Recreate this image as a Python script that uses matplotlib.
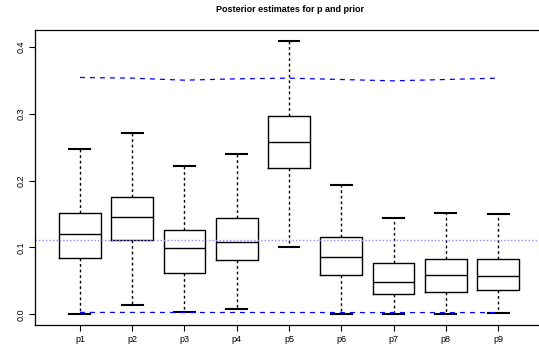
import matplotlib
matplotlib.use("Agg")
import matplotlib.pyplot as plt
import numpy as np

plt.rcParams['font.family'] = ['Liberation Sans', 'DejaVu Sans']

# box statistics
labels = ["p1", "p2", "p3", "p4", "p5", "p6", "p7", "p8", "p9"]
whislo = [0.0005, 0.014, 0.003, 0.008, 0.101, 0.001, 0.001, 0.001, 0.0015]
q1 = [0.0845, 0.111, 0.062, 0.0815, 0.218, 0.058, 0.030, 0.034, 0.036]
med = [0.120, 0.145, 0.0985, 0.108, 0.257, 0.086, 0.048, 0.058, 0.057]
q3 = [0.151, 0.176, 0.126, 0.144, 0.296, 0.116, 0.077, 0.082, 0.082]
whishi = [0.247, 0.271, 0.221, 0.240, 0.409, 0.193, 0.144, 0.152, 0.150]

# prior quantiles and prior mean
prior_hi = [0.354, 0.353, 0.350, 0.352, 0.353, 0.351, 0.349, 0.351, 0.353]
prior_lo = [0.0028, 0.0028, 0.0027, 0.0027, 0.0027, 0.0026, 0.0026, 0.0026, 0.0026]
prior_mean = 0.111

fig = plt.figure(figsize=(5.39, 3.45), dpi=100)
ax = fig.add_axes([35/539, 1-325/345, 508/539, 295/345])

stats = []
for i in range(len(labels)):
    stats.append(dict(label=labels[i], whislo=whislo[i], q1=q1[i], med=med[i],
                      q3=q3[i], whishi=whishi[i], fliers=[]))

pos = np.arange(1, len(labels)+1)
ax.bxp(stats, positions=pos, widths=0.8, showfliers=False,
       boxprops=dict(color="black", linewidth=1.0),
       medianprops=dict(color="black", linewidth=1.0),
       whiskerprops=dict(color="black", linewidth=1.0, linestyle=(0, (2, 2))),
       capprops=dict(color="black", linewidth=1.5), capwidths=0.4)

ax.plot(pos, prior_hi, color="blue", linestyle=(0, (4, 4)), linewidth=0.9)
ax.plot(pos, prior_lo, color="blue", linestyle=(0, (4, 4)), linewidth=0.9)
ax.axhline(prior_mean, color="#8c8cff", linestyle=(0, (1, 1.5)), linewidth=1.0)

ax.set_xlim(0.14, 9.86)
ax.set_ylim(-0.016, 0.425)
ax.set_xticks(pos)
ax.set_xticklabels(labels, fontsize=6.5)
ax.set_yticks([0.0, 0.1, 0.2, 0.3, 0.4])
ax.set_yticklabels(["0.0", "0.1", "0.2", "0.3", "0.4"], fontsize=6.5, rotation=90, va="center")
ax.tick_params(direction="out", length=4, width=0.8, pad=3)
for s in ax.spines.values():
    s.set_linewidth(0.9)

fig.text(290/539, 1-10/345, "Posterior estimates for p and prior", ha="center", va="center",
         fontsize=6.5, fontweight="bold")

fig.savefig("out.png", dpi=100)
